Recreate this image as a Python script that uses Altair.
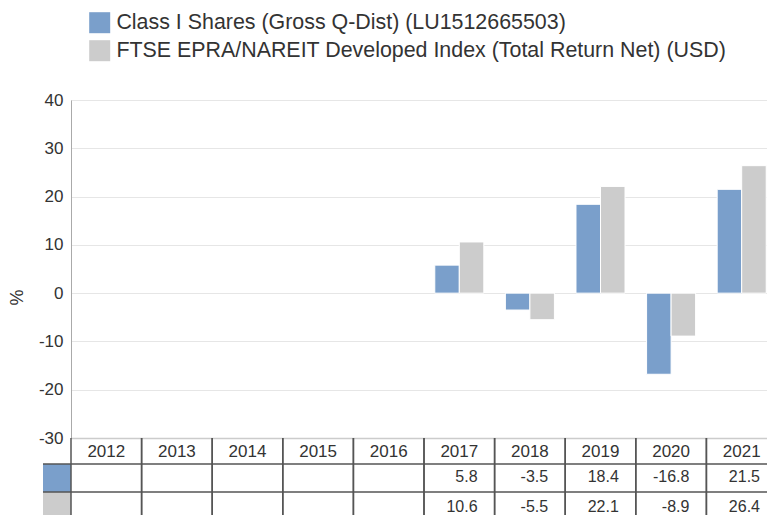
import altair as alt
import pandas as pd

# ---- data ----
years = ["2012", "2013", "2014", "2015", "2016", "2017", "2018", "2019", "2020", "2021"]
series_names = [
    "Class I Shares (Gross Q-Dist) (LU1512665503)",
    "FTSE EPRA/NAREIT Developed Index (Total Return Net) (USD)",
]
class_i_returns = [None, None, None, None, None, 5.8, -3.5, 18.4, -16.8, 21.5]
index_returns = [None, None, None, None, None, 10.6, -5.5, 22.1, -8.9, 26.4]
y_ticks = [-30, -20, -10, 0, 10, 20, 30, 40]
colors = ["#7a9fcb", "#cccccc"]

# ---- layout ----
W, H = 706, 338
FONT = "Liberation Sans"
TXT = "#333333"
LINE = "#555555"

rows = []
for s, vals in zip(series_names, [class_i_returns, index_returns]):
    for yr, v in zip(years, vals):
        if v is not None:
            rows.append({"year": yr, "series": s, "value": v, "label": f"{v:.1f}"})
bars_df = pd.DataFrame(rows)
years_df = pd.DataFrame({"year": years})
series_df = pd.DataFrame({"series": series_names})

x_scale = alt.Scale(domain=years, paddingInner=0, paddingOuter=0)
x_axis = alt.Axis(title=None, labels=False, ticks=False, grid=False,
                  domainColor="#cccccc", domainWidth=1.5)

bars = alt.Chart(bars_df).mark_bar(stroke="white", strokeWidth=1).encode(
    x=alt.X("year:N", scale=x_scale, axis=x_axis),
    xOffset=alt.XOffset("series:N", scale=alt.Scale(domain=series_names, paddingInner=0, paddingOuter=0.44)),
    y=alt.Y("value:Q", scale=alt.Scale(domain=[-30, 40], nice=False, zero=False),
            axis=alt.Axis(values=y_ticks, grid=True, gridColor="#e6e6e6", domainColor="#aaaaaa",
                          ticks=False, labelPadding=8, labelFontSize=17, labelColor=TXT,
                          labelFont=FONT, labelExpr="'' + datum.value",
                          title="%", titleFontSize=18, titleFontWeight="normal",
                          titleColor=TXT, titleFont=FONT, titleAngle=270, titleX=-54,
                          titleY=197, titleBaseline="middle", titleAlign="center")),
    color=alt.Color("series:N", scale=alt.Scale(domain=series_names, range=colors),
                    legend=alt.Legend(title=None, orient="none", legendX=18, legendY=-88,
                                      direction="vertical",
                                      symbolType="square", symbolSize=441,
                                      symbolStrokeWidth=0, symbolOpacity=1,
                                      labelFontSize=21.4, labelFont=FONT, labelColor=TXT,
                                      labelLimit=0, rowPadding=5, labelOffset=6, padding=0)),
)

year_text = alt.Chart(years_df).mark_text(fontSize=17, font=FONT, color=TXT, baseline="middle").encode(
    x=alt.X("year:N", scale=x_scale, axis=x_axis),
    y=alt.value(352),
    text="year:N",
)

num_layers = []
for s, ypos in zip(series_names, [377, 407]):
    num_layers.append(
        alt.Chart(bars_df).transform_filter(alt.datum.series == s)
        .mark_text(fontSize=16, font=FONT, color=TXT, baseline="middle", align="right", dx=-17)
        .encode(
            x=alt.X("year:N", scale=x_scale, axis=x_axis, bandPosition=1),
            y=alt.value(ypos),
            text="label:N",
        )
    )

vlines = []
for bp in [0, 1]:
    vlines.append(
        alt.Chart(years_df).mark_rule(color=LINE, strokeWidth=1.5).encode(
            x=alt.X("year:N", scale=x_scale, axis=x_axis, bandPosition=bp),
            y=alt.value(338),
            y2=alt.value(430),
        )
    )

hlines = []
for ypos in [364, 392]:
    hlines.append(
        alt.Chart(series_df.head(1)).mark_rule(color=LINE, strokeWidth=1.5).encode(
            x=alt.value(-28), x2=alt.value(W), y=alt.value(ypos)
        )
    )

swatches = []
for i, (y0, y1) in enumerate([(364, 392), (392, 430)]):
    swatches.append(
        alt.Chart(series_df.iloc[[i]]).mark_rect(color=colors[i]).encode(
            x=alt.value(-28), x2=alt.value(0), y=alt.value(y0), y2=alt.value(y1)
        )
    )

chart = alt.layer(
    bars, *swatches, *vlines, *hlines, year_text, *num_layers
).properties(
    width=W,
    height=H,
    autosize=alt.AutoSizeParams(type="none"),
    padding={"left": 63, "top": 92, "right": -10, "bottom": 77},
).configure_view(stroke=None).configure(font=FONT)

chart.save("out.html", embed_options={"renderer": "svg", "actions": False})
